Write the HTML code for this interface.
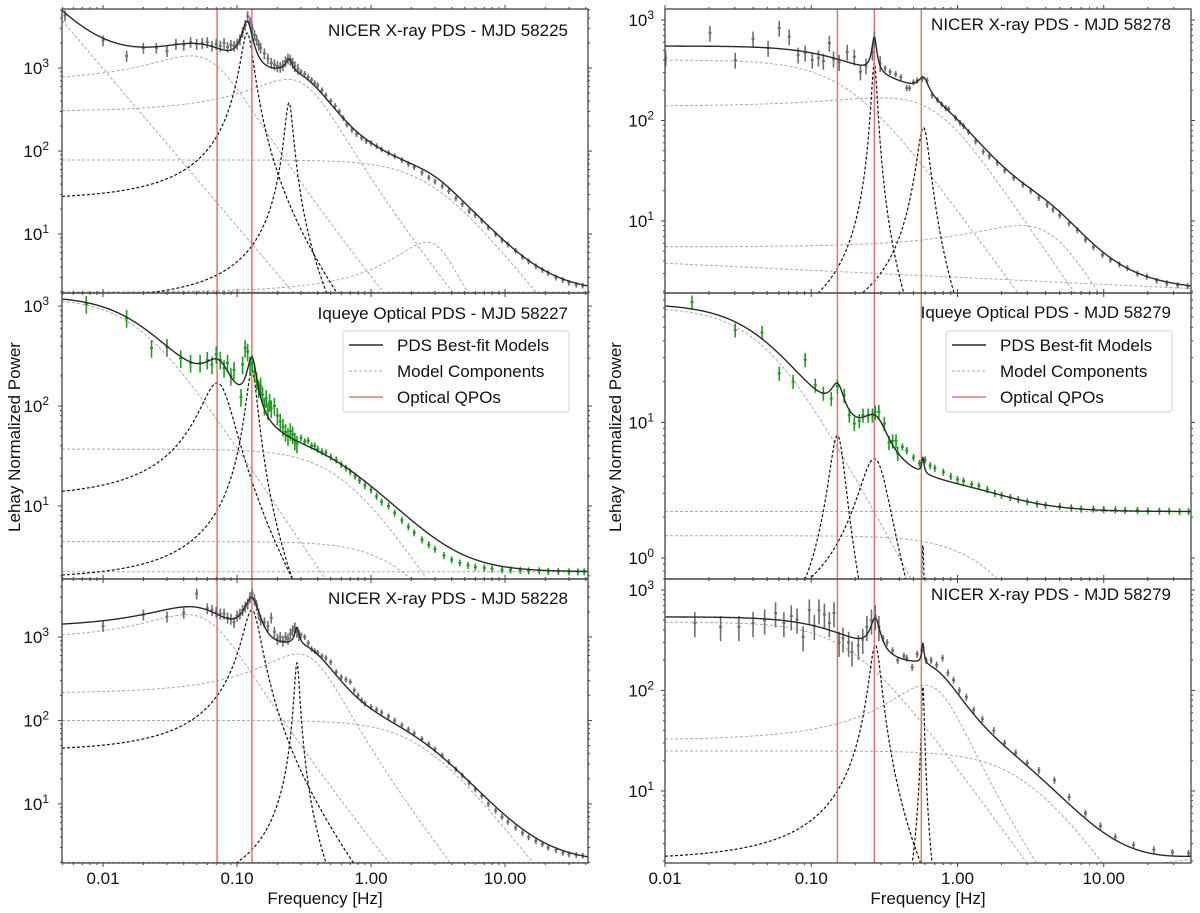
<!DOCTYPE html>
<html><head><meta charset="utf-8"><title>PDS panels</title>
<style>
html,body{margin:0;padding:0;background:#fff;width:1200px;height:913px;overflow:hidden;}
svg{display:block;font-family:"Liberation Sans",sans-serif;}
</style></head>
<body>
<svg id="fig" width="1200" height="913" viewBox="0 0 1200 913" xmlns="http://www.w3.org/2000/svg">
<rect x="0" y="0" width="1200" height="913" fill="#fff"/>
<defs id="defs"></defs>
</svg>
<script>
// ---------- data ----------
const redLeft = [0.071, 0.129];
const redRight = [0.151, 0.27, 0.566];
const xTicks = [0.01, 0.1, 1, 10];
const xTickLabels = ["0.01", "0.10", "1.00", "10.00"];

// Panel A: NICER 58225
const A_freq = [0.0052,0.010,0.015,0.020,0.025,0.030,0.035,0.040,0.045,0.050,0.055,0.060,0.065,0.070,0.075,0.080,0.085,0.090,0.095,0.100,0.105,0.110,0.115,0.120,0.125,0.130,0.135,0.140,0.145,0.150,0.160,0.170,0.180,0.190,0.200,0.210,0.220,0.230,0.240,0.250,0.260,0.270,0.285,0.30,0.32,0.34,0.36,0.38,0.40,0.43,0.46,0.50,0.54,0.58,0.62,0.66,0.72,0.78,0.85,0.92,1.0,1.1,1.2,1.35,1.5,1.7,1.9,2.1,2.4,2.7,3.0,3.4,3.8,4.3,4.8,5.4,6.0,6.7,7.5,8.5,9.5,10.5,12,13.5,15,17,19,21,24,27,30,34,38];
const A_pow = [4300,2150,1400,1750,1750,1600,1950,1900,2050,1950,2000,2050,1850,1950,1850,2000,1800,1900,1850,1950,2200,2700,3300,4200,3600,3000,2500,2200,1900,1750,1500,1300,1150,1100,1050,1030,1080,1200,1300,1250,1150,1050,980,900,850,780,720,660,620,540,470,400,350,300,250,210,180,160,145,132,125,115,105,95,87,78,70,64,55,48,43,38,33,27,23,19,17,14.5,12,10,8.5,7.5,6.3,5.3,4.7,4.1,3.7,3.4,3.0,2.8,2.6,2.45,2.4];
const A_kind = ['pl','lor','lor','lor','lor','const','qpo','qpo'];
const A_amp = [0.156,1400,730,78,8,2.0,2640,380];
const A_f0 = [0,0.045,0.24,0,2.6,0,0.119,0.244];
const A_w = [1.9,0.045,0.2,2.75,1.5,0,0.0119,0.016];

// Panel B: Iqueye 58227
const B_freq = [0.0075,0.015,0.023,0.030,0.038,0.045,0.053,0.060,0.065,0.070,0.075,0.080,0.085,0.090,0.095,0.107,0.110,0.115,0.120,0.125,0.130,0.135,0.140,0.145,0.150,0.155,0.160,0.165,0.170,0.175,0.180,0.190,0.200,0.210,0.220,0.230,0.240,0.250,0.260,0.270,0.280,0.30,0.32,0.34,0.36,0.38,0.40,0.43,0.46,0.50,0.55,0.60,0.65,0.70,0.76,0.82,0.90,1.0,1.1,1.2,1.35,1.5,1.7,1.9,2.1,2.4,2.7,3.0,3.5,4.0,4.6,5.3,6,7,8,9.5,11,13,15,18,21,25,30,35,39];
const B_pow = [1050,760,380,390,300,270,270,290,260,330,290,240,270,200,230,123,260,380,350,260,270,220,180,150,160,130,100,120,90,110,95,100,80,70,62,55,50,56,52,45,42,48,44,45,40,40,37,35,34,31,29,26,24,22,20,18,16,14.5,12.5,11,10,8.5,7.2,6.2,5.4,4.6,4.1,3.7,3.2,2.9,2.7,2.55,2.45,2.4,2.35,2.3,2.3,2.28,2.25,2.25,2.22,2.22,2.2,2.2,2.2];
const B_kind = ['lor','lor','lor','const','qpo','qpo'];
const B_amp = [1200,37,4.4,2.2,170,224];
const B_f0 = [0,0,0,0,0.071,0.129];
const B_w = [0.018,0.6,1.7,0,0.0198,0.0119];

// Panel C: NICER 58228
const C_freq = [0.010,0.020,0.030,0.040,0.050,0.060,0.065,0.070,0.075,0.080,0.085,0.090,0.095,0.100,0.105,0.110,0.115,0.120,0.125,0.130,0.135,0.140,0.145,0.150,0.160,0.170,0.180,0.190,0.200,0.210,0.220,0.230,0.240,0.250,0.260,0.270,0.280,0.290,0.30,0.32,0.34,0.36,0.38,0.40,0.43,0.46,0.50,0.55,0.6,0.65,0.7,0.75,0.8,0.85,0.9,1.0,1.1,1.2,1.35,1.5,1.7,1.9,2.1,2.4,2.7,3.0,3.4,3.8,4.3,4.8,5.4,6.0,6.7,7.5,8.5,9.5,10.5,12,13.5,15,17,19,21,24,27,30,34,38];
const C_pow = [1350,1850,1750,1950,3300,2200,2100,2000,1900,1900,1700,1650,1500,1800,1900,2100,2300,2500,3000,3300,2800,2400,1900,1600,1500,1350,1700,1150,950,1000,900,1000,950,1100,1200,1300,1150,1050,1050,1000,850,720,680,650,590,560,500,380,330,310,290,230,200,175,160,145,135,125,112,100,88,78,70,60,52,45,38,32,26,22,18,15,12.5,10,8.3,7,6.1,5.2,4.5,4,3.6,3.3,3.0,2.8,2.6,2.5,2.45,2.4];
const C_kind = ['lor','lor','lor','const','qpo','qpo'];
const C_amp = [1850,626,100,2.0,2100,490];
const C_f0 = [0.042,0.285,0,0,0.129,0.28];
const C_w = [0.043,0.204,2.3,0,0.0187,0.0115];

// Panel D: NICER 58278
const D_freq = [0.0101,0.0203,0.0302,0.040,0.0507,0.0604,0.0707,0.0813,0.0909,0.1016,0.112,0.121,0.133,0.142,0.155,0.176,0.197,0.217,0.237,0.262,0.27,0.296,0.32,0.346,0.378,0.41,0.45,0.47,0.50,0.53,0.575,0.62,0.67,0.73,0.78,0.83,0.87,0.97,1.04,1.1,1.19,1.33,1.5,1.65,1.87,2.1,2.42,2.8,3.17,3.6,4.1,4.5,5.0,5.8,6.6,7.5,8.5,9.8,11.1,12.8,14.5,17,19.7,23,27,32,37.5];
const D_pow = [420,740,400,650,525,830,680,450,470,400,420,390,590,410,380,480,430,305,350,480,650,370,330,305,290,270,210,210,240,250,260,250,178,160,145,133,130,106,95,88,77,62,49,44,38,32,27,23,20,17,14.5,13,11.4,9.5,8.1,6.5,5.5,4.6,4.1,3.7,3.4,3.0,2.8,2.55,2.4,2.3,2.25];
const D_kind = ['lor','lor','lor','pl','qpo','qpo'];
const D_amp = [400,168,9,2.75,374,85];
const D_f0 = [0,0.3,2.7,0,0.27,0.585];
const D_w = [0.18,0.65,3.4,0.07,0.0114,0.055];

// Panel E: Iqueye 58279
const E_freq = [0.0153,0.0302,0.0461,0.0604,0.0752,0.0909,0.1066,0.121,0.137,0.151,0.168,0.182,0.197,0.213,0.226,0.245,0.262,0.274,0.29,0.316,0.34,0.36,0.38,0.39,0.42,0.45,0.5,0.55,0.6,0.65,0.7,0.8,0.9,1.0,1.1,1.25,1.4,1.6,1.8,2.0,2.3,2.6,3.0,3.5,4,5,6,7,8.5,10,12,14,17,20,24,28,33,38];
const E_pow = [77,48,46,23,20,29,18.8,16.4,15,18.5,15.8,11.3,9.8,10.3,11.3,11.3,11.3,11.9,12,9.8,7.1,7.3,7.3,5.9,6.6,6.2,5.5,5.0,5.3,4.8,4.6,4.3,4.0,3.8,3.7,3.5,3.4,3.2,3.0,2.9,2.8,2.7,2.6,2.5,2.45,2.4,2.35,2.3,2.3,2.28,2.27,2.25,2.25,2.23,2.22,2.22,2.2,2.2];
const E_kind = ['lor','const','lor','qpo','qpo','qpo'];
const E_amp = [71,2.2,1.46,8,5.4,1.25];
const E_f0 = [0,0,0,0.151,0.27,0.58];
const E_w = [0.048,0,1.8,0.0186,0.0667,0.012];

// Panel F: NICER 58279
const F_freq = [0.016,0.024,0.032,0.040,0.048,0.057,0.065,0.073,0.080,0.088,0.097,0.105,0.113,0.123,0.133,0.143,0.155,0.165,0.180,0.190,0.210,0.225,0.240,0.258,0.274,0.290,0.310,0.330,0.360,0.390,0.430,0.450,0.490,0.530,0.570,0.610,0.660,0.720,0.790,0.860,0.940,1.03,1.15,1.29,1.48,1.77,2.1,2.5,3.0,3.6,4.6,5.8,7.5,9.5,12,16,22,29.5,38];
const F_pow = [470,430,430,470,500,590,470,550,510,340,630,440,630,570,470,590,300,330,300,240,280,320,430,500,550,430,330,300,250,200,220,210,170,230,250,200,200,180,210,150,127,100,86,64,52,40,30,24,19,16,12.8,8.7,6.0,4.5,3.5,2.9,2.6,2.45,2.4];
const F_kind = ['lor','lor','lor','pl','qpo','qpo'];
const F_amp = [480,113,25,1.08,283,110];
const F_f0 = [0,0.6,0,0,0.274,0.58];
const F_w = [0.189,0.377,2.83,-0.18,0.0236,0.012];

// ---------- rendering ----------
const NS = "http://www.w3.org/2000/svg";
const svg = document.getElementById('fig');
const defs = document.getElementById('defs');
function el(tag, attrs, parent) {
  const e = document.createElementNS(NS, tag);
  for (const k in attrs) e.setAttribute(k, attrs[k]);
  (parent || svg).appendChild(e);
  return e;
}
const L10 = Math.log10;
function comp(kind, a, f0, w, f) {
  if (kind === 'pl') return a * Math.pow(f, -w);
  if (kind === 'const') return a;
  return a * w * w / ((f - f0) * (f - f0) + w * w);
}

const colL = {x0: 62, x1: 588, xlo: 0.00494, xhi: 41.6, red: redLeft};
const colR = {x0: 665, x1: 1191, xlo: 0.01, xhi: 39.5, red: redRight};

const panels = [
  {id:'a', col:colL, y0:9, y1:293, ylo:1.95, yhi:5140, freq:A_freq, pow:A_pow, kind:A_kind, amp:A_amp, f0:A_f0, w:A_w, color:'#6e6e6e', errLo:0.15, errHi:0.08, split:0.3, title:'NICER X-ray PDS - MJD 58225', ty:36, legend:false, xlab:false},
  {id:'b', col:colL, y0:293, y1:579, ylo:1.86, yhi:1350, freq:B_freq, pow:B_pow, kind:B_kind, amp:B_amp, f0:B_f0, w:B_w, color:'#1f9a1f', errLo:0.2, errHi:0.08, split:0.3, title:'Iqueye Optical PDS - MJD 58227', ty:319, legend:true, xlab:false},
  {id:'c', col:colL, y0:579, y1:863, ylo:1.96, yhi:4950, freq:C_freq, pow:C_pow, kind:C_kind, amp:C_amp, f0:C_f0, w:C_w, color:'#6e6e6e', errLo:0.15, errHi:0.08, split:0.3, title:'NICER X-ray PDS - MJD 58228', ty:604, legend:false, xlab:true},
  {id:'d', col:colR, y0:9, y1:293, ylo:1.92, yhi:1286, freq:D_freq, pow:D_pow, kind:D_kind, amp:D_amp, f0:D_f0, w:D_w, color:'#6e6e6e', errLo:0.18, errHi:0.07, split:0.3, title:'NICER X-ray PDS - MJD 58278', ty:30, legend:false, xlab:false},
  {id:'e', col:colR, y0:293, y1:579, ylo:0.70, yhi:90, freq:E_freq, pow:E_pow, kind:E_kind, amp:E_amp, f0:E_f0, w:E_w, color:'#1f9a1f', errLo:0.12, errHi:0.06, split:0.4, title:'Iqueye Optical PDS - MJD 58279', ty:318, legend:true, xlab:false},
  {id:'f', col:colR, y0:579, y1:863, ylo:1.92, yhi:1286, freq:F_freq, pow:F_pow, kind:F_kind, amp:F_amp, f0:F_f0, w:F_w, color:'#6e6e6e', errLo:0.28, errHi:0.08, split:0.3, title:'NICER X-ray PDS - MJD 58279', ty:600, legend:false, xlab:true}
];

panels.forEach(function(p) {
  const c = p.col;
  const px = f => c.x0 + (L10(f) - L10(c.xlo)) / (L10(c.xhi) - L10(c.xlo)) * (c.x1 - c.x0);
  const py = v => p.y1 - (L10(v) - L10(p.ylo)) / (L10(p.yhi) - L10(p.ylo)) * (p.y1 - p.y0);
  const clamp = v => Math.min(Math.max(v, p.ylo / 1.15), p.yhi * 1.1);
  const clampD = v => Math.min(Math.max(v, p.ylo), p.yhi);

  const g = el('g', {});
  
  

  const cp = el('clipPath', {id: 'clip-' + p.id}, defs);
  el('rect', {x: c.x0, y: p.y0, width: c.x1 - c.x0, height: p.y1 - p.y0}, cp);
  const plot = el('g', {'clip-path': 'url(#clip-' + p.id + ')'}, g);
  
  

  const N = 1600, grid = [];
  for (let i = 0; i <= N; i++) grid.push(Math.pow(10, L10(c.xlo) + (L10(c.xhi) - L10(c.xlo)) * i / N));

  p.kind.forEach(function(k, j) {
    let d = '';
    grid.forEach(function(f, i) {
      const v = clamp(comp(k, p.amp[j], p.f0[j], p.w[j], f));
      d += (i ? 'L' : 'M') + px(f).toFixed(2) + ' ' + py(v).toFixed(2);
    });
    const isQ = k === 'qpo';
    const path = el('path', {d: d, fill: 'none', stroke: isQ ? '#111' : '#aaaaaa', 'stroke-width': isQ ? 1.2 : 1, 'stroke-dasharray': '3,2'}, plot);
    
    
  });

  c.red.forEach(function(f, j) {
    const ln = el('line', {x1: px(f), x2: px(f), y1: p.y0, y2: p.y1, stroke: '#e87070', 'stroke-width': 1.5}, plot);
    
    
  });

  const dg = el('g', {stroke: p.color, fill: p.color}, plot);
  
  
  p.freq.forEach(function(f, i) {
    const v = p.pow[i];
    const e = f < p.split ? p.errLo : p.errHi;
    const x = px(f);
    const bar = el('line', {x1: x, x2: x, y1: py(clampD(v * (1 + e))), y2: py(clampD(v * (1 - e))), 'stroke-width': 1.6}, dg);
    
    
    const m = el('rect', {x: x - 1.5, y: py(v) - 1, width: 3, height: 2, stroke: 'none'}, dg);
    
    
  });

  let dT = '';
  grid.forEach(function(f, i) {
    let s = 0;
    p.kind.forEach(function(k, j) { s += comp(k, p.amp[j], p.f0[j], p.w[j], f); });
    dT += (i ? 'L' : 'M') + px(f).toFixed(2) + ' ' + py(clamp(s)).toFixed(2);
  });
  const tot = el('path', {d: dT, fill: 'none', stroke: '#2a2a2a', 'stroke-width': 1.4}, plot);
  
  

  const tg = el('g', {stroke: '#444', 'stroke-width': 1}, g);
  
  
  for (let dcd = -3; dcd <= 4; dcd++) {
    for (let m = 1; m <= 9; m++) {
      const v = m * Math.pow(10, dcd);
      const len = m === 1 ? 4 : 2;
      if (v >= p.ylo && v <= p.yhi) {
        const y = py(v);
        el('line', {x1: c.x0, x2: c.x0 - len, y1: y, y2: y}, tg);
        el('line', {x1: c.x1, x2: c.x1 + len, y1: y, y2: y}, tg);
      }
      if (v >= c.xlo && v <= c.xhi) {
        const x = px(v);
        el('line', {x1: x, x2: x, y1: p.y1, y2: p.y1 + len}, tg);
        el('line', {x1: x, x2: x, y1: p.y0, y2: Math.max(p.y0 - len, 1)}, tg);
      }
    }
  }
  const labX = c === colL ? 49 : 654;
  for (let dcd = -3; dcd <= 4; dcd++) {
    const v = Math.pow(10, dcd);
    if (v >= p.ylo && v <= p.yhi) {
      const t = el('text', {x: labX, y: py(v) + 6, 'text-anchor': 'end', 'font-size': 17, fill: '#111'}, g);
      
      
      const t1 = el('tspan', {}, t); t1.textContent = '10';
      const t2 = el('tspan', {dy: -7, 'font-size': 12}, t); t2.textContent = String(dcd);
    }
  }
  const fr = el('rect', {x: c.x0, y: p.y0, width: c.x1 - c.x0, height: p.y1 - p.y0, fill: 'none', stroke: '#444', 'stroke-width': 1.3}, g);
  
  

  const tt = el('text', {x: c.x1 - 20, y: p.ty, 'text-anchor': 'end', 'font-size': 17, fill: '#111'}, g);
  tt.textContent = p.title;
  
  

  if (p.legend) {
    const lg = el('g', {}, g);
    
    
    const lx = c.x1 - 245, ly = 331;
    el('rect', {x: lx, y: ly, width: 226, height: 81, rx: 3, fill: '#fff', 'fill-opacity': 0.85, stroke: '#d0d0d0'}, lg);
    const items = [['PDS Best-fit Models', '#2a2a2a', '', 1.5], ['Model Components', '#aaaaaa', '3,2', 1], ['Optical QPOs', '#e87070', '', 1.5]];
    items.forEach(function(it, j) {
      const cy = ly + 14 + j * 26;
      const ln = el('line', {x1: lx + 6, x2: lx + 40, y1: cy, y2: cy, stroke: it[1], 'stroke-width': it[3], 'stroke-dasharray': it[2] || 'none'}, lg);
      
      
      const tx = el('text', {x: lx + 54, y: cy + 6, 'font-size': 17, fill: '#111'}, lg);
      tx.textContent = it[0];
      
      
    });
  }

  if (p.xlab) {
    xTicks.forEach(function(v, j) {
      const t = el('text', {x: px(v), y: 884, 'text-anchor': 'middle', 'font-size': 17, fill: '#111'}, g);
      t.textContent = xTickLabels[j];
      
      
    });
    const xt = el('text', {x: (c.x0 + c.x1) / 2, y: 904, 'text-anchor': 'middle', 'font-size': 17, fill: '#111'}, g);
    xt.textContent = 'Frequency [Hz]';
    
    
  }
});

[20, 621].forEach(function(x, j) {
  const t = el('text', {x: x, y: 437, 'text-anchor': 'middle', 'font-size': 17, fill: '#111', transform: 'rotate(-90 ' + x + ' 437)'});
  t.textContent = 'Lehay Normalized Power';
  
  
});
</script>
</body></html>
